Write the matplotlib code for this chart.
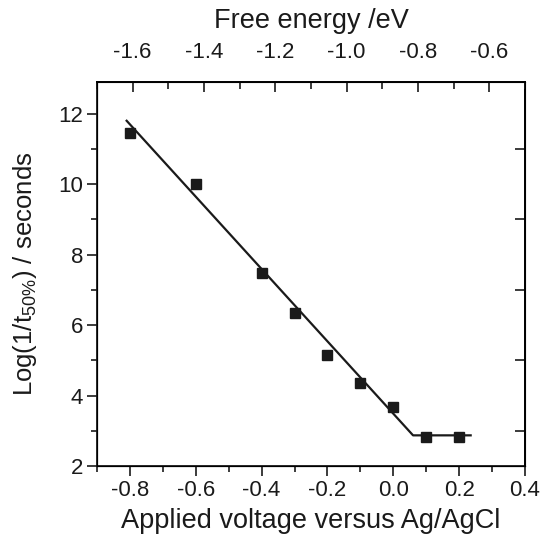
import numpy as np
import matplotlib.pyplot as plt
from matplotlib.ticker import MultipleLocator, FixedLocator

plt.rcParams['font.family'] = ['Liberation Sans', 'DejaVu Sans']
plt.rcParams['axes.unicode_minus'] = False

# measured points
voltage = [-0.8, -0.6, -0.4, -0.3, -0.2, -0.1, 0.0, 0.1, 0.2]
log_rate = [11.45, 10.0, 7.48, 6.33, 5.16, 4.37, 3.67, 2.81, 2.81]

# fitted line (linear then plateau)
fit_v = [-0.81, 0.06, 0.235]
fit_y = [11.8, 2.87, 2.87]

ink = '#1a1a1a'

fig = plt.figure(figsize=(5.42, 5.36), dpi=100)
ax = fig.add_axes([0.179, 0.1306, 0.7896, 0.7164])

ax.plot(fit_v, fit_y, color=ink, lw=1.6, zorder=2)
ax.plot(voltage, log_rate, 's', color=ink, ms=7, zorder=3)

ax.set_xlim(-0.9, 0.4)
ax.set_ylim(2, 12.9)
ax.xaxis.set_major_locator(MultipleLocator(0.2))
ax.xaxis.set_minor_locator(MultipleLocator(0.1))
ax.yaxis.set_major_locator(MultipleLocator(2))
ax.yaxis.set_minor_locator(MultipleLocator(1))
ax.xaxis.set_major_formatter(plt.FuncFormatter(lambda v, p: f'{v:.1f}'.replace('-0.0', '0.0')))

ax.tick_params(axis='both', which='major', direction='out', length=7, width=1.2,
               labelsize=16, colors=ink, pad=3)
ax.tick_params(axis='both', which='minor', direction='out', length=4, width=1.2, colors=ink)

for s in ax.spines.values():
    s.set_linewidth(1.3)
    s.set_color(ink)

# right axis: inward ticks at odd values only
axr = ax.twinx()
axr.set_ylim(ax.get_ylim())
axr.yaxis.set_major_locator(FixedLocator([3, 5, 7, 9, 11]))
axr.tick_params(axis='y', direction='in', length=7, width=1.2, labelright=False, colors=ink)
axr.spines['right'].set_linewidth(1.3)

# top axis: free energy
axt = ax.twiny()
axt.set_xlim(-1.7, -0.5)
axt.xaxis.set_major_locator(MultipleLocator(0.2))
axt.xaxis.set_minor_locator(MultipleLocator(0.1))
axt.tick_params(axis='x', which='major', direction='in', length=7, width=1.2,
                labelsize=16, colors=ink, pad=14)
axt.tick_params(axis='x', which='minor', direction='in', length=5, width=1.2, colors=ink)
axt.spines['top'].set_linewidth(1.3)
axt.set_xlabel('Free energy /eV', fontsize=19.5, color=ink, labelpad=10)

ax.set_xlabel('Applied voltage versus Ag/AgCl', fontsize=19.5, color=ink, labelpad=5)
ax.set_ylabel(r'Log(1/t$_{\mathregular{50\%}}$) / seconds', fontsize=18.5, color=ink, labelpad=14)

fig.savefig('out.png', dpi=100)
